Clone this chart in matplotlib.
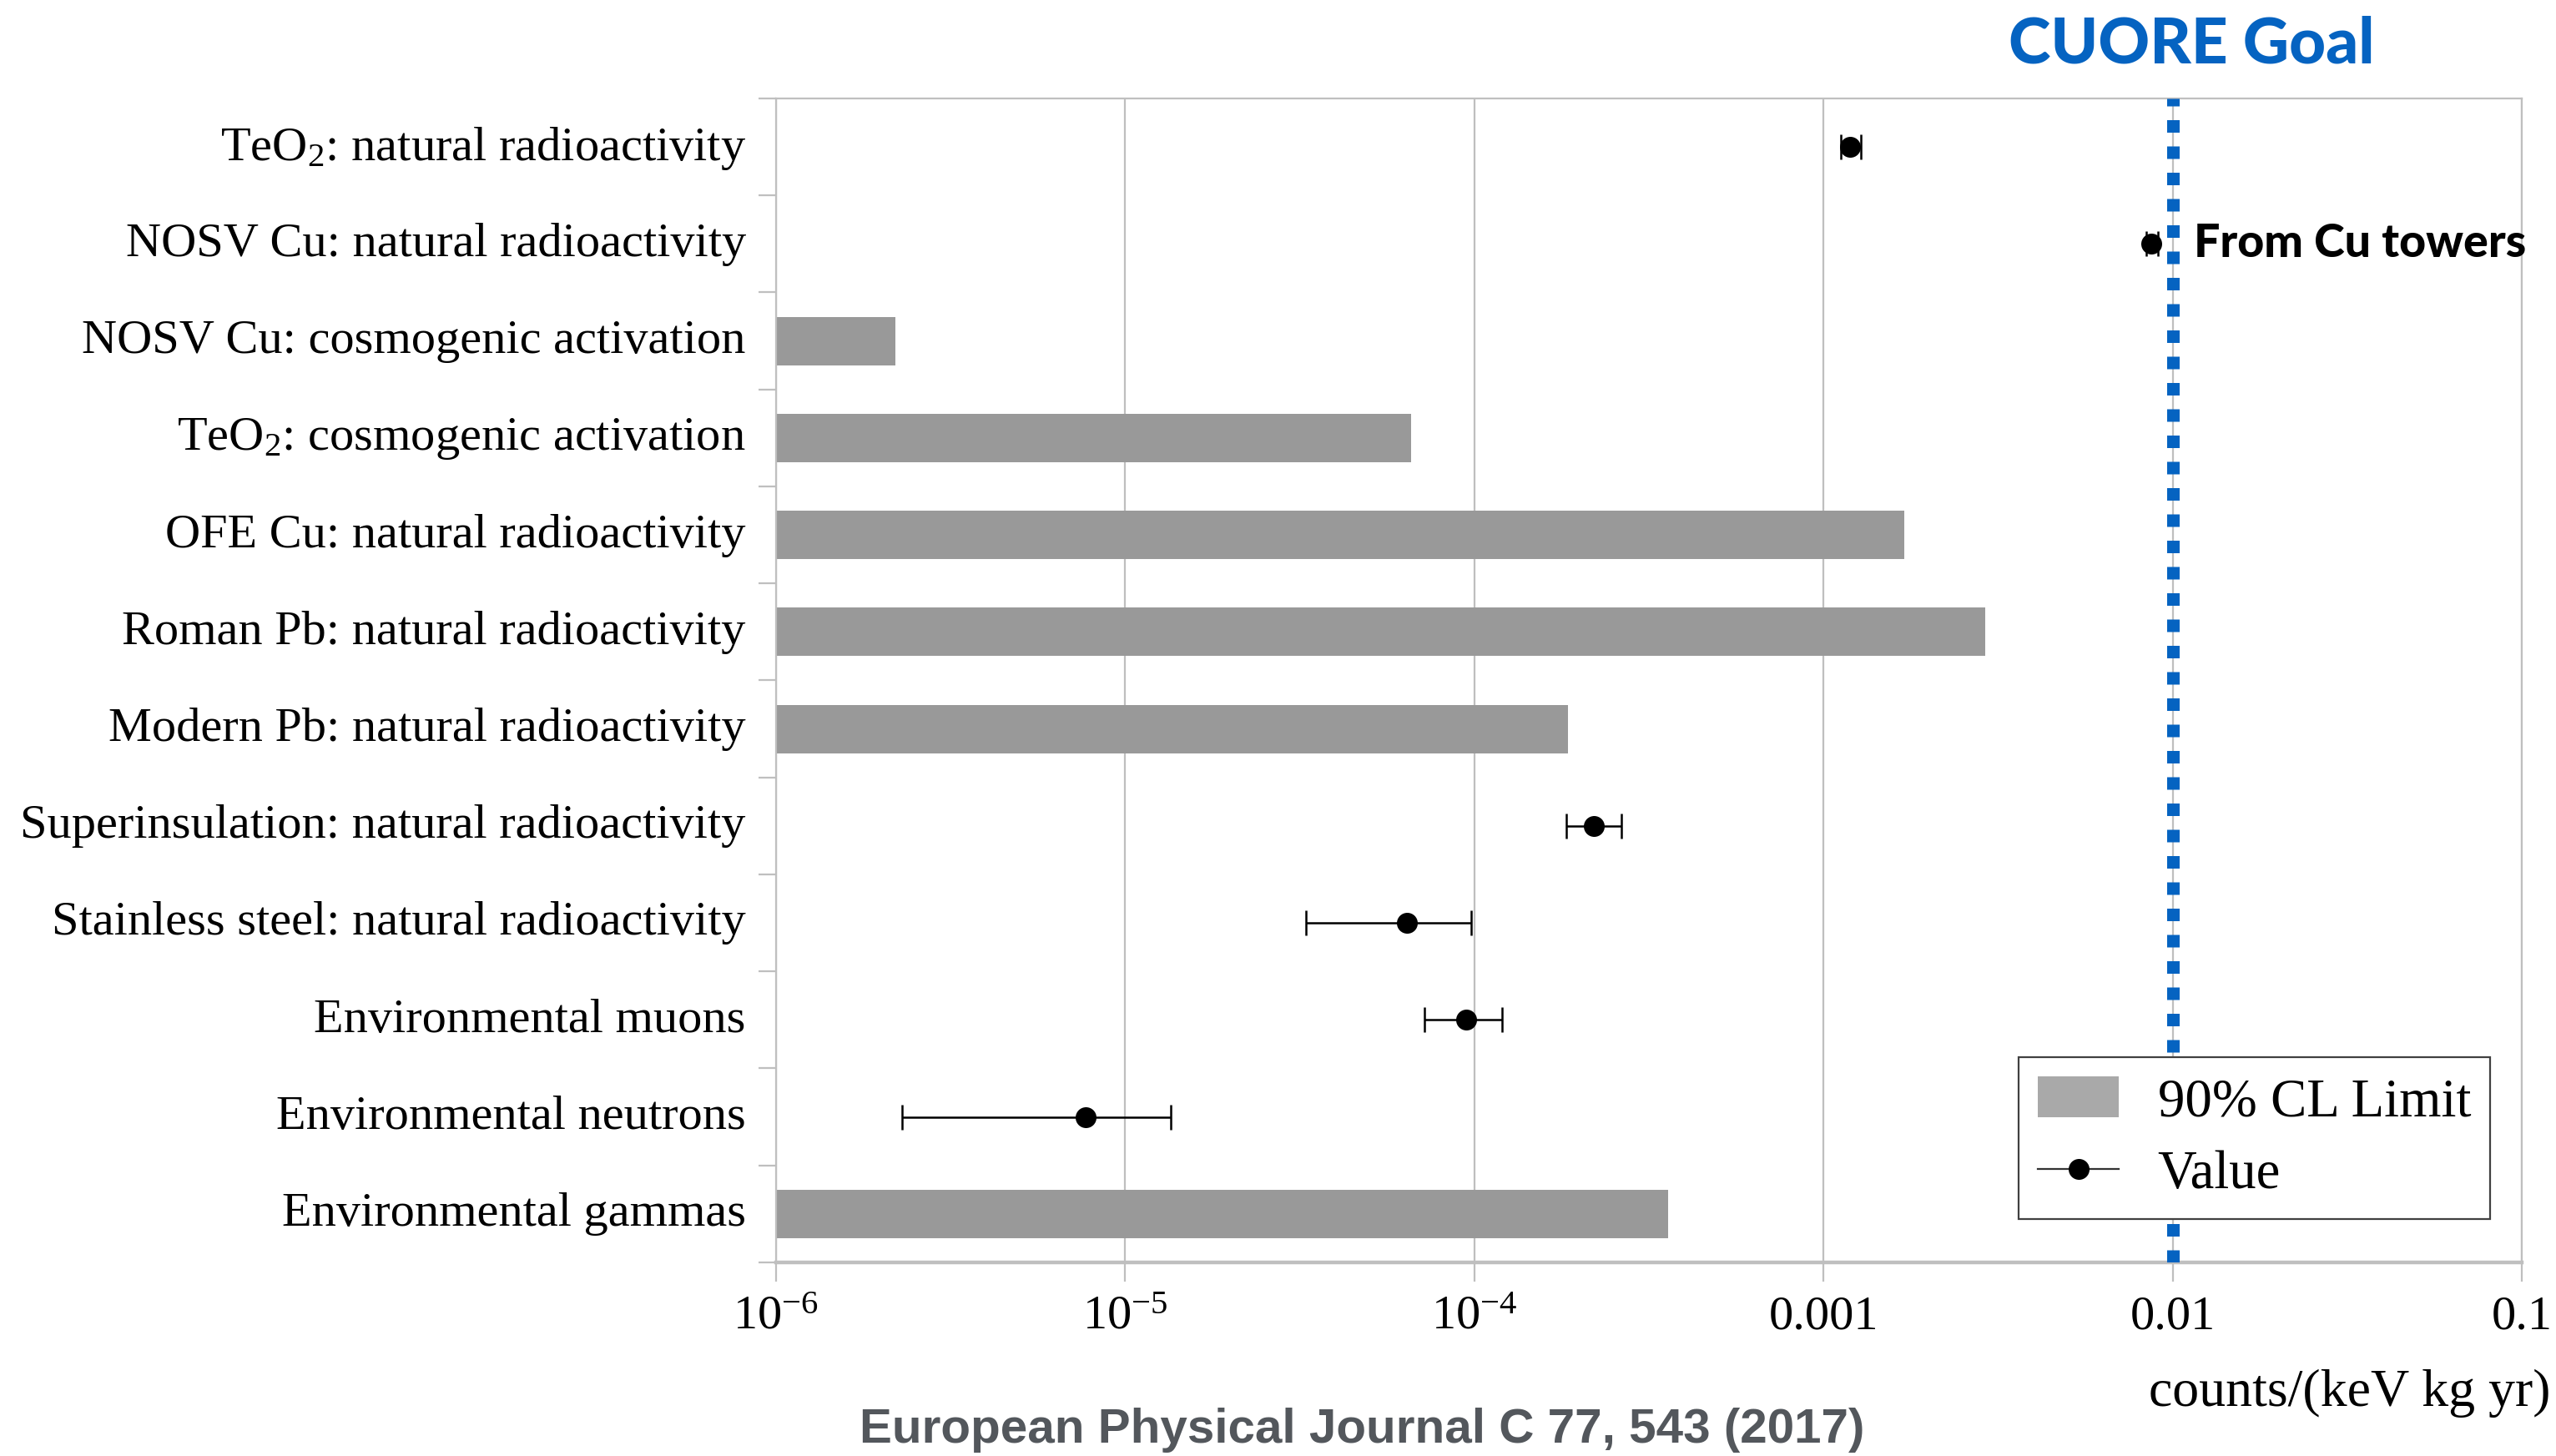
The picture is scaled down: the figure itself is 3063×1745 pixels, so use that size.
import matplotlib.pyplot as plt
import matplotlib.transforms as mtransforms
from matplotlib.patches import Patch
from matplotlib.lines import Line2D
import numpy as np

plt.rcParams['font.family'] = ['Liberation Serif', 'DejaVu Serif']
plt.rcParams['mathtext.fontset'] = 'custom'
plt.rcParams['mathtext.rm'] = 'Liberation Serif'
plt.rcParams['mathtext.it'] = 'Liberation Serif:italic'

# categories, top to bottom
categories = [
    "TeO$_\\mathregular{2}$: natural radioactivity",
    "NOSV Cu: natural radioactivity",
    "NOSV Cu: cosmogenic activation",
    "TeO$_\\mathregular{2}$: cosmogenic activation",
    "OFE Cu: natural radioactivity",
    "Roman Pb: natural radioactivity",
    "Modern Pb: natural radioactivity",
    "Superinsulation: natural radioactivity",
    "Stainless steel: natural radioactivity",
    "Environmental muons",
    "Environmental neutrons",
    "Environmental gammas",
]

# 90% CL limits (bars)
limit_idx = [2, 3, 4, 5, 6, 11]
limit_values = [2.2e-6, 6.6e-5, 1.7e-3, 2.9e-3, 1.85e-4, 3.6e-4]

# measured values with errors (points)
value_idx = [0, 1, 7, 8, 9, 10]
value_central = [1.19e-3, 8.7e-3, 2.2e-4, 6.4e-5, 9.5e-5, 7.7e-6]
value_low = [1.12e-3, 8.4e-3, 1.83e-4, 3.3e-5, 7.2e-5, 2.3e-6]
value_high = [1.28e-3, 9.1e-3, 2.64e-4, 9.8e-5, 1.2e-4, 1.35e-5]

goal = 0.01
xmin, xmax = 1e-6, 0.1
xticks = [1e-6, 1e-5, 1e-4, 1e-3, 1e-2, 1e-1]
xticklabels = ["$\\mathregular{10^{-6}}$", "$\\mathregular{10^{-5}}$", "$\\mathregular{10^{-4}}$",
               "0.001", "0.01", "0.1"]

grey = "#bfbfbf"
blue = "#0563c1"

fig = plt.figure(figsize=(15.315, 8.725), dpi=200)
ax = fig.add_axes([0.3036, 0.133, 0.683, 0.7994])

ax.set_xscale('log')
ax.set_xlim(xmin, xmax)
ax.set_ylim(len(categories) - 0.5, -0.5)

# bars
widths = np.array(limit_values) - xmin
ax.barh(limit_idx, widths, left=xmin, height=0.5, color="#999999", zorder=2)

# points with error bars
c = np.array(value_central)
xerr = [c - np.array(value_low), np.array(value_high) - c]
ax.errorbar(c, value_idx, xerr=xerr, fmt='o', color='black', markersize=8,
            elinewidth=0.9, capsize=5.5, capthick=0.9, zorder=4)

# goal line
ax.axvline(goal, color=blue, linewidth=5.4, linestyle=(0, (1, 1.1)),
           dash_capstyle='butt', zorder=3)

# grid and spines
ax.grid(axis='x', color=grey, linewidth=0.8, zorder=0)
ax.set_axisbelow(True)
for s in ['top', 'right', 'left']:
    ax.spines[s].set_color(grey)
    ax.spines[s].set_linewidth(0.8)
ax.spines['bottom'].set_color(grey)
ax.spines['bottom'].set_linewidth(1.6)

ax.set_xticks(xticks)
ax.set_xticklabels(xticklabels)
ax.xaxis.set_minor_locator(plt.NullLocator())
ax.tick_params(axis='x', which='major', length=8.3, width=0.8, color=grey,
               labelsize=21, pad=6)

ax.set_yticks(range(len(categories)))
ax.set_yticklabels(categories)
ax.set_yticks(np.arange(-0.5, len(categories)), minor=True)
ax.tick_params(axis='y', which='major', length=0, labelsize=21, pad=13)
ax.tick_params(axis='y', which='minor', length=7.6, width=0.8, color=grey)
shift = mtransforms.ScaledTranslation(0, 2 / 72, fig.dpi_scale_trans)
for lab in ax.get_yticklabels():
    lab.set_transform(lab.get_transform() + shift)

# annotations
trans = mtransforms.blended_transform_factory(ax.transData, ax.transAxes)
ax.annotate("CUORE Goal", xy=(goal, 1.046), xycoords=trans, xytext=(8, 0),
            textcoords='offset points', ha='center', va='center',
            color=blue, fontsize=27.5, fontweight='black', family=['Lato', 'DejaVu Sans'])
ax.annotate("From Cu towers", xy=(goal, value_idx[1]), xytext=(9, 0),
            textcoords='offset points', ha='left', va='center',
            fontsize=20, fontweight='black', family=['Lato', 'DejaVu Sans'])

fig.text(0.9977, 0.043, "counts/(keV kg yr)", ha='right', va='center', fontsize=23)
fig.text(0.533, 0.018, "European Physical Journal C 77, 543 (2017)", ha='center',
         va='center', fontsize=21, fontweight='bold', color="#53575c",
         family=['Liberation Sans Narrow', 'Liberation Sans', 'DejaVu Sans'])

# legend
handles = [Patch(facecolor="#a9a9a9", edgecolor='none'),
           Line2D([0], [0], color='#333333', linewidth=0.8, marker='o',
                  markerfacecolor='black', markeredgecolor='black', markersize=8)]
leg = ax.legend(handles, ["90% CL Limit", "Value"], loc='lower right',
                bbox_to_anchor=(0.9818, 0.0373), borderaxespad=0, fontsize=23.3,
                fancybox=False, framealpha=1, edgecolor='#404040',
                handlelength=1.5, handleheight=0.8, handletextpad=0.72,
                labelspacing=0.4, borderpad=0.35)
leg.get_frame().set_linewidth(0.8)

fig.savefig("out.png", dpi=200)
